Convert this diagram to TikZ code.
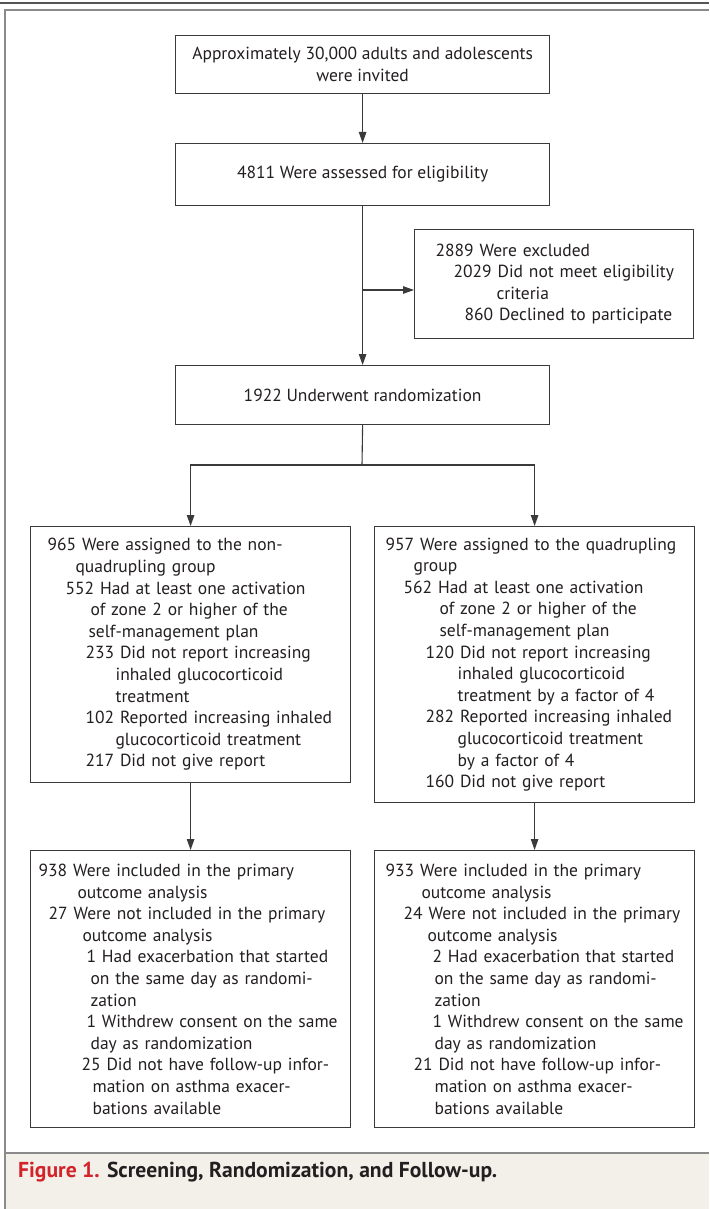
\documentclass[tikz,border=0pt]{standalone}
\usepackage{fontspec}
\setmainfont{PT Sans}
\usetikzlibrary{arrows.meta}
\definecolor{linec}{HTML}{3A3A3A}
\definecolor{textc}{HTML}{231F20}
\definecolor{capbg}{HTML}{F3F0EA}
\definecolor{figred}{HTML}{D2232A}
\definecolor{framec}{HTML}{8A8A8A}
\definecolor{rulec}{HTML}{555555}
\newcommand\ind[2]{\mbox{\hspace*{#1pt}#2}}
\begin{document}
\begin{tikzpicture}[x=1pt,y=-1pt,
  every node/.style={text=textc, font=\fontsize{17.5}{21.6}\selectfont},
  cbox/.style={draw=linec, line width=1.2pt, anchor=north west, inner ysep=0pt, align=center},
  lbox/.style={draw=linec, line width=1.2pt, anchor=north west, inner ysep=0pt, align=left},
  arr/.style={draw=linec, line width=1.1pt, -{Triangle[length=11pt,width=7.5pt]}},
  ln/.style={draw=linec, line width=1.1pt}]
\useasboundingbox (0,0) rectangle (709,1209);
\fill[white] (0,0) rectangle (709,1209);
\fill[capbg] (5,1153) rectangle (709,1209);
\draw[rulec, line width=2pt] (0,3) -- (709,3);
\draw[framec, line width=1.6pt] (5,1209) -- (5,10) -- (709,10);
\draw[framec, line width=1.3pt] (5,1153) -- (709,1153);

\node[cbox, minimum width=374, minimum height=58] (invite) at (175,35)
  {Approximately 30,000 adults and adolescents\\were invited};
\node[cbox, minimum width=374, minimum height=62] (assess) at (175,143)
  {4811 Were assessed for eligibility};
\node[lbox, minimum width=279, minimum height=109, inner xsep=21, text width=237] (excl) at (414,229)
  {\ind{0}{2889 Were excluded}\\
   \ind{18}{2029 Did not meet eligibility}\\
   \ind{61}{criteria}\\
   \ind{29}{860 Declined to participate}};
\node[cbox, minimum width=374, minimum height=59] (random) at (175,365)
  {1922 Underwent randomization};

\node[lbox, minimum width=320, minimum height=256, inner xsep=17, text width=286] (g1) at (30,526)
  {\ind{0}{965 Were assigned to the non-}\\
   \ind{28}{quadrupling group}\\
   \ind{18}{552 Had at least one activation}\\
   \ind{43}{of zone 2 or higher of the}\\
   \ind{41}{self-management plan}\\
   \ind{38}{233 Did not report increasing}\\
   \ind{68}{inhaled glucocorticoid}\\
   \ind{68}{treatment}\\
   \ind{38}{102 Reported increasing inhaled}\\
   \ind{68}{glucocorticoid treatment}\\
   \ind{38}{217 Did not give report}};
\node[lbox, minimum width=320, minimum height=276, inner xsep=11, text width=298] (g2) at (374,526)
  {\ind{0}{957 Were assigned to the quadrupling}\\
   \ind{28}{group}\\
   \ind{18}{562 Had at least one activation}\\
   \ind{54}{of zone 2 or higher of the}\\
   \ind{54}{self-management plan}\\
   \ind{40}{120 Did not report increasing}\\
   \ind{72}{inhaled glucocorticoid}\\
   \ind{72}{treatment by a factor of 4}\\
   \ind{40}{282 Reported increasing inhaled}\\
   \ind{72}{glucocorticoid treatment}\\
   \ind{72}{by a factor of 4}\\
   \ind{40}{160 Did not give report}};

\node[lbox, minimum width=320, minimum height=277, inner xsep=8, text width=304] (a1) at (30,850)
  {\ind{0}{938 Were included in the primary}\\
   \ind{39}{outcome analysis}\\
   \ind{10}{27 Were not included in the primary}\\
   \ind{44}{outcome analysis}\\
   \ind{48}{1 Had exacerbation that started}\\
   \ind{52}{on the same day as randomi-}\\
   \ind{52}{zation}\\
   \ind{48}{1 Withdrew consent on the same}\\
   \ind{52}{day as randomization}\\
   \ind{43}{25 Did not have follow-up infor-}\\
   \ind{54}{mation on asthma exacer-}\\
   \ind{54}{bations available}};
\node[lbox, minimum width=320, minimum height=277, inner xsep=11, text width=298] (a2) at (374,850)
  {\ind{0}{933 Were included in the primary}\\
   \ind{36}{outcome analysis}\\
   \ind{18}{24 Were not included in the primary}\\
   \ind{42}{outcome analysis}\\
   \ind{47}{2 Had exacerbation that started}\\
   \ind{49}{on the same day as randomi-}\\
   \ind{49}{zation}\\
   \ind{47}{1 Withdrew consent on the same}\\
   \ind{49}{day as randomization}\\
   \ind{28}{21 Did not have follow-up infor-}\\
   \ind{49}{mation on asthma exacer-}\\
   \ind{49}{bations available}};

\draw[arr] (invite.south) -- (assess.north);
\draw[arr] (assess.south) -- (random.north);
\coordinate (br) at (362,290);
\draw[arr] (br) -- (br -| excl.west);
\coordinate (sp) at (362,465);
\draw[ln] (random.south) -- (sp);
\draw[arr] (sp) -| (g1.north);
\draw[arr] (sp) -| (g2.north);
\draw[arr] (g1.south) -- (a1.north);
\draw[arr] (g2.south) -- (a2.north);

\node[anchor=west, inner sep=0pt, font=\fontsize{21.6}{24}\selectfont\bfseries] (cap) at (18,1172)
  {\textcolor{figred}{Figure 1.} Screening, Randomization, and Follow-up.};
\end{tikzpicture}
\end{document}
